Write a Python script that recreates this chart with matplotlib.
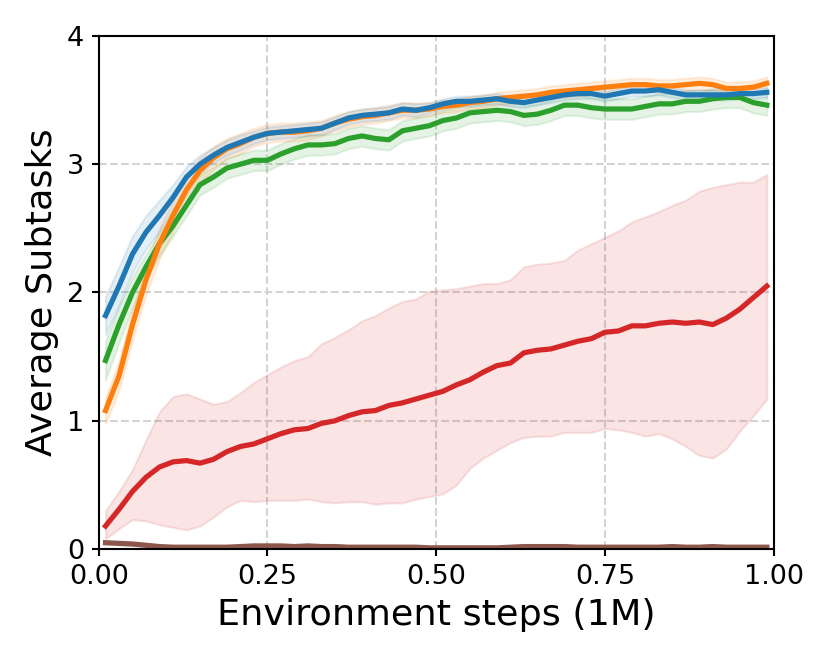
import numpy as np
import matplotlib
matplotlib.use("Agg")
import matplotlib.pyplot as plt

# environment steps (in 1M)
steps = [0.01, 0.03, 0.05, 0.07, 0.09, 0.11, 0.13, 0.15, 0.17, 0.19,
         0.21, 0.23, 0.25, 0.27, 0.29, 0.31, 0.33, 0.35, 0.37, 0.39,
         0.41, 0.43, 0.45, 0.47, 0.49, 0.51, 0.53, 0.55, 0.57, 0.59,
         0.61, 0.63, 0.65, 0.67, 0.69, 0.71, 0.73, 0.75, 0.77, 0.79,
         0.81, 0.83, 0.85, 0.87, 0.89, 0.91, 0.93, 0.95, 0.97, 0.99]

blue_mean = [1.82, 2.05, 2.30, 2.47, 2.60, 2.74, 2.90, 3.00, 3.07, 3.13,
             3.17, 3.21, 3.24, 3.25, 3.26, 3.27, 3.28, 3.32, 3.36, 3.38,
             3.39, 3.40, 3.43, 3.42, 3.44, 3.47, 3.49, 3.49, 3.50, 3.51,
             3.49, 3.48, 3.50, 3.52, 3.54, 3.55, 3.55, 3.53, 3.55, 3.57,
             3.57, 3.58, 3.56, 3.54, 3.54, 3.54, 3.54, 3.55, 3.55, 3.56]
blue_std = [0.15, 0.15, 0.14, 0.13, 0.12, 0.10, 0.08, 0.07, 0.06, 0.06,
            0.06, 0.05, 0.05, 0.05, 0.05, 0.05, 0.05, 0.05, 0.05, 0.05,
            0.05, 0.05, 0.05, 0.05, 0.04, 0.04, 0.04, 0.04, 0.04, 0.04,
            0.04, 0.04, 0.04, 0.04, 0.04, 0.04, 0.04, 0.04, 0.04, 0.04,
            0.04, 0.04, 0.04, 0.04, 0.04, 0.04, 0.04, 0.04, 0.04, 0.04]

orange_mean = [1.08, 1.35, 1.75, 2.10, 2.38, 2.60, 2.80, 2.95, 3.05, 3.12,
               3.16, 3.21, 3.24, 3.25, 3.25, 3.26, 3.28, 3.32, 3.35, 3.37,
               3.38, 3.40, 3.42, 3.42, 3.43, 3.45, 3.46, 3.48, 3.49, 3.51,
               3.52, 3.53, 3.54, 3.56, 3.57, 3.58, 3.59, 3.60, 3.61, 3.62,
               3.62, 3.61, 3.61, 3.62, 3.63, 3.62, 3.59, 3.59, 3.60, 3.63]
orange_std = [0.10, 0.12, 0.12, 0.12, 0.12, 0.12, 0.11, 0.10, 0.09, 0.08,
              0.08, 0.07, 0.07, 0.07, 0.07, 0.07, 0.06, 0.06, 0.06, 0.06,
              0.06, 0.06, 0.06, 0.06, 0.05, 0.05, 0.05, 0.05, 0.05, 0.05,
              0.05, 0.05, 0.05, 0.05, 0.05, 0.05, 0.05, 0.05, 0.05, 0.05,
              0.05, 0.05, 0.05, 0.05, 0.05, 0.05, 0.05, 0.05, 0.05, 0.05]

green_mean = [1.47, 1.75, 2.00, 2.20, 2.38, 2.52, 2.68, 2.84, 2.90, 2.97,
              3.00, 3.03, 3.03, 3.08, 3.12, 3.15, 3.15, 3.16, 3.20, 3.22,
              3.20, 3.19, 3.26, 3.28, 3.30, 3.34, 3.36, 3.40, 3.41, 3.42,
              3.41, 3.38, 3.39, 3.42, 3.46, 3.46, 3.44, 3.43, 3.43, 3.43,
              3.45, 3.47, 3.47, 3.49, 3.49, 3.51, 3.52, 3.52, 3.48, 3.46]
green_std = [0.15, 0.14, 0.12, 0.10, 0.09, 0.08, 0.08, 0.08, 0.08, 0.08,
             0.08, 0.08, 0.08, 0.08, 0.08, 0.08, 0.08, 0.08, 0.08, 0.08,
             0.08, 0.08, 0.08, 0.08, 0.08, 0.08, 0.08, 0.08, 0.08, 0.08,
             0.08, 0.08, 0.08, 0.08, 0.08, 0.08, 0.08, 0.08, 0.08, 0.08,
             0.08, 0.08, 0.08, 0.08, 0.08, 0.08, 0.08, 0.08, 0.08, 0.08]

red_mean = [0.18, 0.31, 0.45, 0.56, 0.64, 0.68, 0.69, 0.67, 0.70, 0.76,
            0.80, 0.82, 0.86, 0.90, 0.93, 0.94, 0.98, 1.00, 1.04, 1.07,
            1.08, 1.12, 1.14, 1.17, 1.20, 1.23, 1.28, 1.32, 1.38, 1.43,
            1.45, 1.53, 1.55, 1.56, 1.59, 1.62, 1.64, 1.69, 1.70, 1.74,
            1.74, 1.76, 1.77, 1.76, 1.77, 1.75, 1.80, 1.87, 1.96, 2.05]
red_upper = [0.30, 0.45, 0.62, 0.85, 1.07, 1.19, 1.21, 1.17, 1.13, 1.15,
             1.22, 1.30, 1.36, 1.42, 1.47, 1.50, 1.60, 1.65, 1.71, 1.78,
             1.82, 1.88, 1.93, 1.95, 2.01, 2.02, 2.03, 2.05, 2.07, 2.07,
             2.10, 2.20, 2.22, 2.23, 2.25, 2.33, 2.38, 2.43, 2.48, 2.55,
             2.59, 2.63, 2.68, 2.72, 2.79, 2.82, 2.84, 2.86, 2.86, 2.92]
red_lower = [0.08, 0.16, 0.23, 0.22, 0.19, 0.17, 0.15, 0.18, 0.25, 0.33,
             0.38, 0.37, 0.38, 0.38, 0.38, 0.39, 0.37, 0.36, 0.37, 0.37,
             0.35, 0.36, 0.36, 0.39, 0.41, 0.43, 0.50, 0.63, 0.71, 0.77,
             0.83, 0.87, 0.88, 0.88, 0.91, 0.91, 0.91, 0.94, 0.93, 0.91,
             0.88, 0.90, 0.86, 0.80, 0.73, 0.71, 0.78, 0.92, 1.04, 1.17]

brown_mean = [0.050, 0.045, 0.040, 0.030, 0.020, 0.015, 0.015, 0.015, 0.015, 0.015,
              0.020, 0.025, 0.025, 0.025, 0.020, 0.025, 0.020, 0.020, 0.015, 0.015,
              0.015, 0.015, 0.015, 0.015, 0.010, 0.010, 0.010, 0.010, 0.010, 0.010,
              0.015, 0.020, 0.020, 0.020, 0.020, 0.015, 0.015, 0.015, 0.015, 0.015,
              0.015, 0.015, 0.020, 0.015, 0.015, 0.020, 0.015, 0.015, 0.015, 0.015]
brown_std = 0.012

x = np.array(steps)

fig = plt.figure(figsize=(830 / 150, 664 / 150), dpi=150)
ax = fig.add_axes([0.119, 0.173, 0.813, 0.773])

series = [
    (blue_mean, blue_std, "tab:blue"),
    (orange_mean, orange_std, "tab:orange"),
    (green_mean, green_std, "tab:green"),
]

# draw the red one first so the others sit on top of its band
ax.fill_between(x, red_lower, red_upper, color="tab:red", alpha=0.12, lw=1)
ax.plot(x, red_mean, color="tab:red", lw=2.5)

bm = np.array(brown_mean)
ax.fill_between(x, bm - brown_std, bm + brown_std, color="tab:brown", alpha=0.15, lw=1)
ax.plot(x, bm, color="tab:brown", lw=2.5)

for mean, std, col in [series[2], series[1], series[0]]:
    m = np.array(mean)
    s = np.array(std)
    ax.fill_between(x, m - s, m + s, color=col, alpha=0.12, lw=1)
for mean, std, col in [series[2], series[1], series[0]]:
    ax.plot(x, mean, color=col, lw=2.5)

ax.set_xlim(0, 1)
ax.set_ylim(0, 4)
ax.set_xticks([0, 0.25, 0.5, 0.75, 1.0])
ax.set_xticklabels(["0.00", "0.25", "0.50", "0.75", "1.00"])
ax.set_yticks([0, 1, 2, 3, 4])
ax.tick_params(labelsize=13, width=1.0)
for sp in ax.spines.values():
    sp.set_linewidth(1.0)
ax.grid(True, linestyle="--", color="lightgray", lw=1)
ax.set_axisbelow(True)
ax.set_xlabel("Environment steps (1M)", fontsize=17.5)
ax.set_ylabel("Average Subtasks", fontsize=17.5)

fig.savefig("out.png", dpi=150)
